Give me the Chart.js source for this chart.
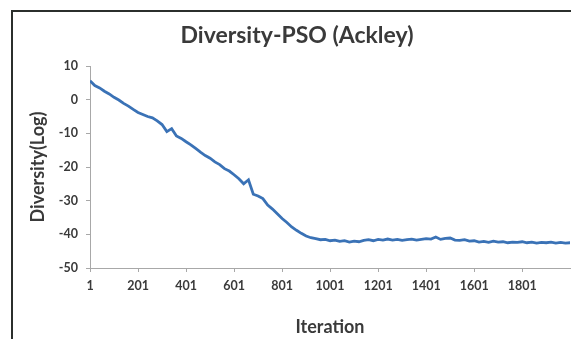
<!DOCTYPE html>
<html>
<head>
<meta charset="utf-8">
<script src="https://cdn.jsdelivr.net/npm/chart.js@4/dist/chart.umd.min.js"></script>
<style>
  html, body { margin: 0; padding: 0; background: #fff; }
  canvas { display: block; }
</style>
</head>
<body>
<canvas id="c" width="571" height="339"></canvas>
<script>
// Population diversity (log scale) of PSO on the Ackley function, sampled every 20 iterations
const chartTitle = 'Diversity-PSO (Ackley)';
const xTitle = 'Iteration';
const yTitle = 'Diversity(Log)';
const sampleStep = 20;
const diversity = [
  5.6, 4.2, 3.5, 2.5, 1.7, 0.7, -0.1, -1.1, -1.9, -2.9,
  -3.8, -4.4, -5.0, -5.4, -6.3, -7.4, -9.5, -8.6, -10.8, -11.5,
  -12.5, -13.4, -14.5, -15.6, -16.6, -17.4, -18.5, -19.3, -20.5, -21.2,
  -22.3, -23.5, -25.0, -23.8, -28.1, -28.6, -29.4, -31.3, -32.5, -33.9,
  -35.3, -36.5, -37.8, -38.8, -39.7, -40.5, -41.0, -41.3, -41.6, -41.5,
  -41.9, -41.7, -42.1, -41.9, -42.3, -42.0, -42.2, -41.8, -41.6, -41.9,
  -41.5, -41.7, -41.4, -41.7, -41.5, -41.8, -41.6, -41.4, -41.7, -41.5,
  -41.3, -41.4, -40.8, -41.5, -41.2, -41.1, -41.7, -41.8, -41.6, -42.0,
  -41.9, -42.3, -42.1, -42.4, -42.0, -42.3, -42.2, -42.5, -42.3, -42.4,
  -42.2, -42.5, -42.3, -42.6, -42.4, -42.5, -42.3, -42.6, -42.4, -42.6,
  -42.5
];
const iterations = diversity.map((_, i) => 1 + i * sampleStep);
const xTickLabels = [1, 201, 401, 601, 801, 1001, 1201, 1401, 1601, 1801];
const yTickValues = [10, 0, -10, -20, -30, -40, -50];

const textColor = '#3a3a3a';
const axisColor = '#a8a8a8';
const lineColor = '#3a72b6';
const fontFamily = 'Lato, "Open Sans", sans-serif';

// Outer frame and centred chart heading
const framePlugin = {
  id: 'frame',
  beforeDraw(chart) {
    const ctx = chart.ctx;
    ctx.save();
    ctx.fillStyle = '#ffffff';
    ctx.fillRect(0, 0, chart.width, chart.height);
    ctx.strokeStyle = '#2b2f2c';
    ctx.lineWidth = 2;
    ctx.beginPath();
    ctx.moveTo(12, chart.height);
    ctx.lineTo(12, 11);
    ctx.lineTo(chart.width, 11);
    ctx.stroke();
    ctx.fillStyle = textColor;
    ctx.font = 'bold 23px ' + fontFamily;
    ctx.textAlign = 'center';
    ctx.textBaseline = 'middle';
    ctx.fillText(chartTitle, 297, 36);
    ctx.restore();
  }
};

new Chart(document.getElementById('c'), {
  type: 'line',
  data: {
    datasets: [{
      data: iterations.map((x, i) => ({ x: x, y: diversity[i] })),
      borderColor: lineColor,
      borderWidth: 2.8,
      pointRadius: 0,
      tension: 0,
      fill: false
    }]
  },
  options: {
    responsive: false,
    animation: false,
    layout: { padding: { top: 66, left: 0, right: 1, bottom: 0 } },
    plugins: {
      legend: { display: false },
      tooltip: { enabled: false },
      title: { display: false }
    },
    scales: {
      x: {
        type: 'linear',
        min: 1,
        max: 2000,
        afterBuildTicks(scale) {
          scale.ticks = xTickLabels.map(v => ({ value: v }));
        },
        afterFit(scale) { scale.height = 71; },
        ticks: {
          color: textColor,
          font: { family: fontFamily, size: 12.5, weight: 'bold' },
          padding: 6,
          maxRotation: 0,
          autoSkip: false,
          callback: v => String(v)
        },
        grid: { drawOnChartArea: false, drawTicks: true, tickLength: 4, color: axisColor },
        border: { display: true, color: axisColor, width: 1 },
        title: {
          display: true,
          text: xTitle,
          color: textColor,
          font: { family: fontFamily, size: 18, weight: 'bold' },
          padding: { top: 0, bottom: 1 }
        }
      },
      y: {
        min: -50,
        max: 10,
        afterBuildTicks(scale) {
          scale.ticks = yTickValues.map(v => ({ value: v }));
        },
        afterFit(scale) { scale.width = 90; },
        ticks: {
          color: textColor,
          font: { family: fontFamily, size: 12.5, weight: 'bold' },
          padding: 8
        },
        grid: { drawOnChartArea: false, drawTicks: true, tickLength: 4, color: axisColor },
        border: { display: true, color: axisColor, width: 1 },
        title: {
          display: true,
          text: yTitle,
          color: textColor,
          font: { family: fontFamily, size: 18, weight: 'bold' },
          padding: { top: 27, bottom: 0 }
        }
      }
    }
  },
  plugins: [framePlugin]
});
</script>
</body>
</html>
